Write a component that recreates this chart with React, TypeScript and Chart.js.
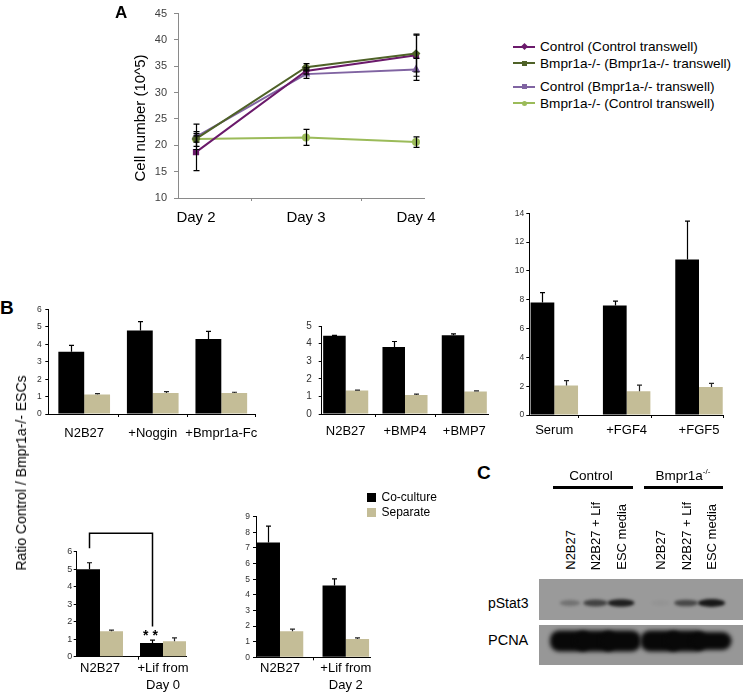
import React, { useEffect, useRef } from "react";
import { Chart, registerables } from "chart.js";

Chart.register(...registerables);

const FONT = "'Liberation Sans', Arial, Helvetica, sans-serif";
Chart.defaults.font.family = FONT;

// ================= Panel A : cell number (10^5) =================
const dayLabels = ["Day 2", "Day 3", "Day 4"];
const seriesLabels = [
  "Control (Control transwell)",
  "Bmpr1a-/- (Bmpr1a-/- transwell)",
  "Control (Bmpr1a-/- transwell)",
  "Bmpr1a-/- (Control transwell)",
];
const controlInControlTw = [18.7, 34.1, 37.1];
const controlInControlTwErr = [3.5, 0.6, 4.0];
const bmprInBmprTw = [21.2, 34.8, 37.4];
const bmprInBmprTwErr = [1.4, 0.7, 3.5];
const controlInBmprTw = [21.6, 33.5, 34.4];
const controlInBmprTwErr = [2.4, 0.8, 2.1];
const bmprInControlTw = [21.2, 21.5, 20.6];
const bmprInControlTwErr = [0.6, 1.5, 1.0];
const seriesColors = ["#6b1a6b", "#4f6228", "#8064a2", "#9bbb59"];

// ================= Panel B : ratio Control / Bmpr1a-/- ESCs =================
const groupLabels = ["Co-culture", "Separate"];
const inhibitorCats = ["N2B27", "+Noggin", "+Bmpr1a-Fc"];
const inhibitorCo = [3.58, 4.8, 4.3];
const inhibitorCoErr = [0.36, 0.5, 0.44];
const inhibitorSep = [1.12, 1.2, 1.2];
const inhibitorSepErr = [0.05, 0.08, 0.05];

const bmpCats = ["N2B27", "+BMP4", "+BMP7"];
const bmpCo = [4.45, 3.8, 4.48];
const bmpCoErr = [0.02, 0.32, 0.07];
const bmpSep = [1.33, 1.08, 1.28];
const bmpSepErr = [0.03, 0.05, 0.03];

const fgfCats = ["Serum", "+FGF4", "+FGF5"];
const fgfCo = [7.8, 7.6, 10.8];
const fgfCoErr = [0.7, 0.3, 2.65];
const fgfSep = [2.05, 1.65, 1.95];
const fgfSepErr = [0.33, 0.42, 0.25];

const lifD0Cats = ["N2B27", ["+Lif from", "Day 0"]];
const lifD0Co = [5.0, 0.78];
const lifD0CoErr = [0.37, 0.17];
const lifD0Sep = [1.46, 0.89];
const lifD0SepErr = [0.06, 0.19];
const sigBracket = { left: 6.2, top: 7.05, right: 1.72, stars: 0.95, label: "* *" };

const lifD2Cats = ["N2B27", ["+Lif from", "Day 2"]];
const lifD2Co = [7.35, 4.6];
const lifD2CoErr = [1.05, 0.42];
const lifD2Sep = [1.67, 1.17];
const lifD2SepErr = [0.13, 0.07];

// ================= Panel C : western blot =================
const blotGroups = ["Control", "Bmpr1a"];
const laneLabels = ["N2B27", "N2B27 + Lif", "ESC media", "N2B27", "N2B27 + Lif", "ESC media"];
const blotRows = ["pStat3", "PCNA"];
const pStat3Signal = [0.28, 0.62, 0.88, 0.04, 0.58, 0.92];
const pcnaSignal = [1, 1, 1, 1, 1, 0.85];

const TAN = "#c4bd97";

type Geo = {
  left: number; top: number; width: number; height: number;
  yW: number; padTop: number; padRight: number; xH: number;
};

function geom(pl: number, pt: number, pr: number, pb: number, yW: number, padT: number, padR: number, xH: number): Geo {
  const left = Math.floor(pl - yW);
  const top = Math.floor(pt - padT);
  const width = Math.ceil(pr + padR - left);
  const height = Math.ceil(pb + xH - top);
  return {
    left, top, width, height,
    yW: pl - left, padTop: pt - top, padRight: left + width - pr, xH: top + height - pb,
  };
}

function ChartCanvas({ g, make }: { g: { left: number; top: number; width: number; height: number }; make: () => any }) {
  const ref = useRef<HTMLCanvasElement | null>(null);
  useEffect(() => {
    if (!ref.current) return;
    const chart = new Chart(ref.current, make());
    return () => chart.destroy();
  }, []);
  return (
    <canvas
      ref={ref}
      width={g.width}
      height={g.height}
      style={{ position: "absolute", left: g.left, top: g.top, width: g.width, height: g.height }}
    />
  );
}

function xTickMarks(marks: number[], color: string, len: number) {
  return {
    id: "xTickMarks",
    afterDraw(chart: any) {
      const xs = chart.scales.x;
      const ctx = chart.ctx;
      const b = chart.chartArea.bottom;
      ctx.save();
      ctx.strokeStyle = color;
      ctx.lineWidth = 1;
      marks.forEach((v) => {
        const x = Math.round(xs.getPixelForValue(v)) + 0.5;
        ctx.beginPath();
        ctx.moveTo(x, b);
        ctx.lineTo(x, b + len);
        ctx.stroke();
      });
      ctx.restore();
    },
  };
}

type BarOpts = {
  g: Geo;
  cats: any[];
  co: number[]; coErr: number[];
  sep: number[]; sepErr: number[];
  xMin: number; xMax: number; catPct: number;
  yMax: number; yStep: number;
  tickSize: number; tickPad: number; labelPad: number;
  marks: number[];
  extra?: any;
};

function barConfig(o: BarOpts) {
  const g = o.g;
  const errPlugin = {
    id: "errBars",
    afterDatasetsDraw(chart: any) {
      const ctx = chart.ctx;
      const ys = chart.scales.y;
      [o.coErr, o.sepErr].forEach((errs, d) => {
        const meta = chart.getDatasetMeta(d);
        const vals = d === 0 ? o.co : o.sep;
        ctx.save();
        ctx.strokeStyle = d === 0 ? "#000" : "#262626";
        ctx.lineWidth = 1.2;
        meta.data.forEach((el: any, i: number) => {
          const x = Math.round(el.x) + 0.5;
          const y1 = ys.getPixelForValue(vals[i] + errs[i]);
          ctx.beginPath();
          ctx.moveTo(x, el.y);
          ctx.lineTo(x, y1);
          ctx.moveTo(x - 2.5, y1);
          ctx.lineTo(x + 2.5, y1);
          ctx.stroke();
        });
        ctx.restore();
      });
    },
  };
  return {
    type: "bar",
    data: {
      datasets: [
        {
          label: groupLabels[0],
          data: o.co.map((v, i) => ({ x: i, y: v })),
          backgroundColor: "#000",
          borderWidth: 0,
          categoryPercentage: o.catPct,
          barPercentage: 1,
        },
        {
          label: groupLabels[1],
          data: o.sep.map((v, i) => ({ x: i, y: v })),
          backgroundColor: TAN,
          borderWidth: 0,
          categoryPercentage: o.catPct,
          barPercentage: 1,
        },
      ],
    },
    options: {
      responsive: false,
      animation: false,
      devicePixelRatio: 1,
      layout: { padding: { top: g.padTop, right: g.padRight, left: 0, bottom: 0 } },
      plugins: { legend: { display: false }, tooltip: { enabled: false } },
      scales: {
        x: {
          type: "linear",
          min: o.xMin,
          max: o.xMax,
          offset: false,
          grid: { display: false, drawTicks: false },
          border: { display: true, color: "#000", width: 1 },
          afterBuildTicks: (s: any) => {
            s.ticks = o.cats.map((_: any, i: number) => ({ value: i }));
          },
          afterFit: (s: any) => {
            s.height = g.xH;
          },
          ticks: {
            autoSkip: false,
            maxRotation: 0,
            minRotation: 0,
            padding: o.labelPad,
            color: "#000",
            font: { family: FONT, size: 13, lineHeight: 1.3 },
            callback: (_v: any, i: number) => o.cats[i],
          },
        },
        y: {
          type: "linear",
          min: 0,
          max: o.yMax,
          grid: { display: true, drawOnChartArea: false, drawTicks: true, tickLength: 3, color: "#000" },
          border: { display: true, color: "#000", width: 1 },
          afterFit: (s: any) => {
            s.width = g.yW;
          },
          ticks: {
            stepSize: o.yStep,
            padding: o.tickPad,
            color: "#333",
            font: { family: FONT, size: o.tickSize, lineHeight: 1.1 },
          },
        },
      },
    },
    plugins: [errPlugin, xTickMarks(o.marks, "#000", 3), ...(o.extra ? [o.extra] : [])],
  };
}

function lineConfigA(g: Geo) {
  const series = [bmprInBmprTw, controlInControlTw, controlInBmprTw, bmprInControlTw];
  const errs = [bmprInBmprTwErr, controlInControlTwErr, controlInBmprTwErr, bmprInControlTwErr];
  const idx = [1, 0, 2, 3];
  const styles = ["rectRot", "rect", "triangle", "circle"];
  const errPlugin = {
    id: "errA",
    afterDatasetsDraw(chart: any) {
      const ctx = chart.ctx;
      const ys = chart.scales.y;
      ctx.save();
      ctx.strokeStyle = "#000";
      ctx.lineWidth = 1.2;
      series.forEach((s, d) => {
        const meta = chart.getDatasetMeta(d);
        meta.data.forEach((el: any, i: number) => {
          const x = Math.round(el.x) + 0.5;
          const yHi = ys.getPixelForValue(s[i] + errs[d][i]);
          const yLo = ys.getPixelForValue(s[i] - errs[d][i]);
          ctx.beginPath();
          ctx.moveTo(x, yLo);
          ctx.lineTo(x, yHi);
          ctx.moveTo(x - 3, yHi);
          ctx.lineTo(x + 3, yHi);
          ctx.moveTo(x - 3, yLo);
          ctx.lineTo(x + 3, yLo);
          ctx.stroke();
        });
      });
      ctx.restore();
    },
  };
  return {
    type: "line",
    data: {
      datasets: series.map((s, d) => ({
        label: seriesLabels[idx[d]],
        data: s.map((v, i) => ({ x: i, y: v })),
        borderColor: seriesColors[idx[d]],
        backgroundColor: seriesColors[idx[d]],
        borderWidth: 2,
        pointRadius: 3,
        pointStyle: styles[d],
        tension: 0,
      })),
    },
    options: {
      responsive: false,
      animation: false,
      devicePixelRatio: 1,
      layout: { padding: { top: g.padTop, right: g.padRight, left: 0, bottom: 0 } },
      plugins: { legend: { display: false }, tooltip: { enabled: false } },
      scales: {
        x: {
          type: "linear",
          min: -0.1636,
          max: 2.0727,
          grid: { display: false, drawTicks: false },
          border: { display: true, color: "#8a8a8a", width: 1 },
          afterBuildTicks: (s: any) => {
            s.ticks = dayLabels.map((_, i) => ({ value: i }));
          },
          afterFit: (s: any) => {
            s.height = g.xH;
          },
          ticks: {
            autoSkip: false,
            maxRotation: 0,
            padding: 11,
            color: "#000",
            font: { family: FONT, size: 15, lineHeight: 1.2 },
            callback: (_v: any, i: number) => dayLabels[i],
          },
        },
        y: {
          type: "linear",
          min: 10,
          max: 45,
          grid: { display: true, drawOnChartArea: false, drawTicks: true, tickLength: 4, color: "#8a8a8a" },
          border: { display: true, color: "#8a8a8a", width: 1 },
          afterFit: (s: any) => {
            s.width = g.yW;
          },
          ticks: {
            stepSize: 5,
            padding: 7,
            color: "#404040",
            font: { family: FONT, size: 11, lineHeight: 1.1 },
          },
        },
      },
    },
    plugins: [errPlugin, xTickMarks([0.5, 1.5], "#8a8a8a", 3)],
  };
}

const bracketPlugin = {
  id: "bracket",
  afterDatasetsDraw(chart: any) {
    const meta = chart.getDatasetMeta(0);
    const ys = chart.scales.y;
    const ctx = chart.ctx;
    const x0 = Math.round(meta.data[0].x) + 0.5;
    const x1 = Math.round(meta.data[1].x) + 0.5;
    const yl = ys.getPixelForValue(sigBracket.left);
    const yt = ys.getPixelForValue(sigBracket.top);
    const yr = ys.getPixelForValue(sigBracket.right);
    ctx.save();
    ctx.strokeStyle = "#000";
    ctx.lineWidth = 1.5;
    ctx.beginPath();
    ctx.moveTo(x0, yl);
    ctx.lineTo(x0, yt);
    ctx.lineTo(x1, yt);
    ctx.lineTo(x1, yr);
    ctx.stroke();
    ctx.fillStyle = "#000";
    ctx.font = `bold 14px ${FONT}`;
    ctx.textAlign = "center";
    ctx.textBaseline = "alphabetic";
    ctx.fillText(sigBracket.label, x1 - 2, ys.getPixelForValue(sigBracket.stars));
    ctx.restore();
  },
};

const lanePos = (i: number) => i + (i >= 3 ? 0.55 : 0);

function blotConfig() {
  const blotPlugin = {
    id: "blot",
    beforeDatasetsDraw(chart: any) {
      const { ctx, chartArea: ca, scales } = chart;
      const x = scales.x;
      const y = scales.y;
      ctx.save();
      // membrane strips
      ctx.fillStyle = "#9a9a9a";
      ctx.fillRect(ca.left, y.getPixelForValue(0), ca.width, y.getPixelForValue(41) - y.getPixelForValue(0));
      ctx.fillStyle = "#979797";
      ctx.fillRect(ca.left, y.getPixelForValue(46), ca.width, y.getPixelForValue(86) - y.getPixelForValue(46));
      ctx.filter = "blur(1.6px)";
      const p = chart.data.datasets[0].data;
      p.forEach((d: any, i: number) => {
        const s = pStat3Signal[i];
        ctx.fillStyle = `rgba(12,12,12,${Math.min(1, s)})`;
        ctx.beginPath();
        ctx.ellipse(x.getPixelForValue(d.x), y.getPixelForValue(d.y), 9 + 5 * s, 2.5 + 1.5 * s, 0, 0, Math.PI * 2);
        ctx.fill();
      });
      ctx.filter = "blur(2.2px)";
      const q = chart.data.datasets[1].data;
      q.forEach((d: any, i: number) => {
        const s = pcnaSignal[i];
        const cx = x.getPixelForValue(d.x);
        const cy = y.getPixelForValue(d.y);
        const h = 21 * s;
        ctx.fillStyle = "rgba(8,8,8,1)";
        ctx.beginPath();
        ctx.roundRect(cx - 20, cy - h / 2, 40, h, 9);
        ctx.fill();
      });
      ctx.restore();
    },
  };
  return {
    type: "scatter",
    data: {
      datasets: [
        { label: blotRows[0], data: pStat3Signal.map((_, i) => ({ x: lanePos(i), y: 24 })), pointRadius: 0 },
        { label: blotRows[1], data: pcnaSignal.map((_, i) => ({ x: lanePos(i), y: 62 })), pointRadius: 0 },
      ],
    },
    options: {
      responsive: false,
      animation: false,
      devicePixelRatio: 1,
      layout: { padding: 0 },
      plugins: { legend: { display: false }, tooltip: { enabled: false } },
      scales: {
        x: { type: "linear", display: false, min: -31 / 25.5, max: -31 / 25.5 + 204 / 25.5 },
        y: { type: "linear", display: false, min: 0, max: 86, reverse: true },
      },
    },
    plugins: [blotPlugin],
  };
}

const abs = (s: React.CSSProperties): React.CSSProperties => ({
  position: "absolute",
  whiteSpace: "nowrap",
  lineHeight: 1,
  ...s,
});

export default function App() {
  const gA = geom(178, 13.5, 424, 198, 60, 13.5, 25, 40);
  const gB1 = geom(48.3, 309.5, 255, 414, 30, 13, 30, 40);
  const gB2 = geom(321.7, 326, 488, 414, 36, 13, 30, 40);
  const gB3 = geom(529.3, 213.3, 723, 415, 30, 13, 20, 40);
  const gB4 = geom(76.7, 551.7, 186, 656.7, 30, 27, 30, 37);
  const gB5 = geom(256, 516.7, 370, 657.3, 30, 12, 30, 36);
  const gBlot = { left: 539, top: 579, width: 204, height: 86 };

  const legendRowsY = [46.7, 63.3, 86.7, 103.3];
  const laneX = laneLabels.map((_, i) => 570 + 25.5 * lanePos(i));

  return (
    <div
      style={{
        position: "absolute",
        left: 0,
        top: 0,
        width: 744,
        height: 694,
        overflow: "hidden",
        background: "#fff",
        fontFamily: FONT,
        color: "#000",
      }}
    >
      <ChartCanvas g={gA} make={() => lineConfigA(gA)} />
      <ChartCanvas
        g={gB1}
        make={() =>
          barConfig({
            g: gB1, cats: inhibitorCats, co: inhibitorCo, coErr: inhibitorCoErr, sep: inhibitorSep, sepErr: inhibitorSepErr,
            xMin: -0.5237, xMax: 2.4916, catPct: 0.754, yMax: 6, yStep: 1, tickSize: 8.5, tickPad: 3.6, labelPad: 10.8,
            marks: [0.5, 1.5, 2.49],
          })
        }
      />
      <ChartCanvas
        g={gB2}
        make={() =>
          barConfig({
            g: gB2, cats: bmpCats, co: bmpCo, coErr: bmpCoErr, sep: bmpSep, sepErr: bmpSepErr,
            xMin: -0.4047, xMax: 2.3997, catPct: 0.76, yMax: 5, yStep: 1, tickSize: 10, tickPad: 7, labelPad: 9.2,
            marks: [0.5, 1.5],
          })
        }
      />
      <ChartCanvas
        g={gB3}
        make={() =>
          barConfig({
            g: gB3, cats: fgfCats, co: fgfCo, coErr: fgfCoErr, sep: fgfSep, sepErr: fgfSepErr,
            xMin: -0.3455, xMax: 2.3317, catPct: 0.656, yMax: 14, yStep: 2, tickSize: 8.5, tickPad: 2, labelPad: 7.2,
            marks: [0.33, 1.33, 2.33],
          })
        }
      />
      <ChartCanvas
        g={gB4}
        make={() =>
          barConfig({
            g: gB4, cats: lifD0Cats, co: lifD0Co, coErr: lifD0CoErr, sep: lifD0Sep, sepErr: lifD0SepErr,
            xMin: -0.3698, xMax: 1.3651, catPct: 0.73, yMax: 6, yStep: 1, tickSize: 9, tickPad: 1.5, labelPad: 3.1,
            marks: [0.6], extra: bracketPlugin,
          })
        }
      />
      <ChartCanvas
        g={gB5}
        make={() =>
          barConfig({
            g: gB5, cats: lifD2Cats, co: lifD2Co, coErr: lifD2CoErr, sep: lifD2Sep, sepErr: lifD2SepErr,
            xMin: -0.3647, xMax: 1.3678, catPct: 0.707, yMax: 9, yStep: 1, tickSize: 8.5, tickPad: 3, labelPad: 2.5,
            marks: [0.5],
          })
        }
      />
      <ChartCanvas g={gBlot} make={() => blotConfig()} />

      {/* Panel letters */}
      <div style={abs({ left: 115, top: 4, fontSize: 17, fontWeight: "bold" })}>A</div>
      <div style={abs({ left: 0, top: 297.5, fontSize: 19, fontWeight: "bold" })}>B</div>
      <div style={abs({ left: 477, top: 462.5, fontSize: 19, fontWeight: "bold" })}>C</div>

      {/* Panel A axis title */}
      <div
        style={abs({
          left: 139,
          top: 117.5,
          fontSize: 15,
          writingMode: "vertical-rl",
          transform: "translate(-50%, -50%) rotate(180deg)",
        })}
      >
        Cell number (10^5)
      </div>

      {/* Panel A legend */}
      {seriesLabels.map((s, k) => (
        <div
          key={s}
          style={abs({
            left: 513,
            top: legendRowsY[k] - 8,
            height: 16,
            display: "flex",
            alignItems: "center",
            fontSize: 13.6,
          })}
        >
          <span style={{ position: "relative", display: "inline-block", width: 22, height: 2, background: seriesColors[k] }}>
            <span
              style={{
                position: "absolute",
                left: 9,
                top: -1.5,
                width: 5,
                height: 5,
                background: seriesColors[k],
                borderRadius: k === 3 ? "50%" : 0,
                transform: k === 0 ? "rotate(45deg)" : "none",
              }}
            />
          </span>
          <span style={{ marginLeft: 5 }}>{s}</span>
        </div>
      ))}

      {/* Panel B axis title */}
      <div
        style={abs({
          left: 21,
          top: 472.5,
          fontSize: 14,
          writingMode: "vertical-rl",
          transform: "translate(-50%, -50%) rotate(180deg)",
        })}
      >
        Ratio Control / Bmpr1a-/- ESCs
      </div>

      {/* Panel B legend */}
      <div style={abs({ left: 367, top: 492.5, width: 9, height: 9, background: "#000" })} />
      <div style={abs({ left: 367, top: 507.5, width: 9, height: 9, background: TAN })} />
      <div style={abs({ left: 381.5, top: 497 - 6, fontSize: 12 })}>{groupLabels[0]}</div>
      <div style={abs({ left: 381.5, top: 511.5 - 6, fontSize: 12 })}>{groupLabels[1]}</div>

      {/* Panel C group headers */}
      <div style={abs({ left: 591, top: 476, fontSize: 13.5, transform: "translate(-50%, -50%)" })}>{blotGroups[0]}</div>
      <div style={abs({ left: 553, top: 486, width: 80, height: 2.5, background: "#000" })} />
      <div style={abs({ left: 683, top: 476, fontSize: 13.5, transform: "translate(-50%, -50%)" })}>
        {blotGroups[1]}
        <sup style={{ fontSize: 8, verticalAlign: "6px", lineHeight: 0 }}>-/-</sup>
      </div>
      <div style={abs({ left: 644, top: 486, width: 79, height: 2.5, background: "#000" })} />

      {/* Lane labels */}
      {laneLabels.map((s, i) => (
        <div
          key={i}
          style={abs({
            left: laneX[i] - 7.5,
            bottom: 694 - 570,
            width: 15,
            fontSize: 13,
            lineHeight: "15px",
            writingMode: "vertical-rl",
            transform: "rotate(180deg)",
          })}
        >
          {s}
        </div>
      ))}

      {/* Blot row labels */}
      <div style={abs({ left: 488, top: 603 - 7, fontSize: 14 })}>{blotRows[0]}</div>
      <div style={abs({ left: 488, top: 640 - 7.5, fontSize: 14.5 })}>{blotRows[1]}</div>
    </div>
  );
}
